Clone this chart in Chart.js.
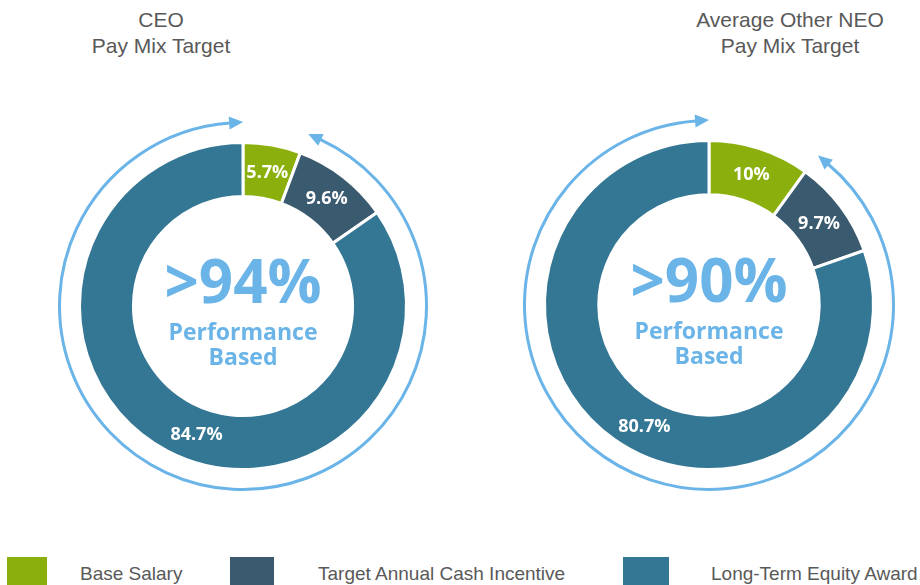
<!DOCTYPE html>
<html>
<head>
<meta charset="utf-8">
<script src="https://cdn.jsdelivr.net/npm/chart.js@4"></script>
<style>
  html, body { margin: 0; padding: 0; background: #ffffff; }
  body { width: 920px; height: 585px; position: relative; overflow: hidden; font-family: "Liberation Sans", Arial, sans-serif; }
  .title { position: absolute; text-align: center; color: #595959; font-size: 21px; line-height: 26px; width: 300px; }
  canvas { position: absolute; }
  .lg-box { position: absolute; top: 557px; height: 28px; }
  .lg-text { position: absolute; top: 563px; font-size: 19px; line-height: 22px; color: #595959; white-space: nowrap; }
</style>
</head>
<body>
<div class="title" style="left:11px; top:7px;">CEO<br>Pay Mix Target</div>
<div class="title" style="left:640px; top:7px;">Average Other NEO<br>Pay Mix Target</div>
<canvas id="ceo" width="400" height="400" style="left:43px; top:106px;"></canvas>
<canvas id="neo" width="400" height="400" style="left:509px; top:105px;"></canvas>
<div id="legend"></div>
<script>
// ---- data ----
const categories = ['Base Salary', 'Target Annual Cash Incentive', 'Long-Term Equity Award'];
const ceoValues = [5.7, 9.6, 84.7];
const neoValues = [10, 9.7, 80.7];
const ceoLabels = ['5.7%', '9.6%', '84.7%'];
const neoLabels = ['10%', '9.7%', '80.7%'];
const ceoCenter = ['>94%', 'Performance', 'Based'];
const neoCenter = ['>90%', 'Performance', 'Based'];

// ---- styles ----
const sliceColors = ['#8BB00E', '#3A5A6F', '#347794'];
const accent = '#6AB4E8';

function makePlugin(labels, center) {
  return {
    id: 'decor',
    afterDatasetsDraw(chart) {
      const ctx = chart.ctx;
      const meta = chart.getDatasetMeta(0);
      const arcs = meta.data;
      const cx = arcs[0].x, cy = arcs[0].y;
      const outer = arcs[0].outerRadius, inner = arcs[0].innerRadius;
      ctx.save();
      // slice labels
      ctx.fillStyle = '#ffffff';
      ctx.font = 'bold 18px "Open Sans", sans-serif';
      ctx.textAlign = 'center';
      ctx.textBaseline = 'middle';
      arcs.forEach((a, i) => {
        const frac = i === arcs.length - 1 ? 0.475 : 0.5;
        const ang = a.startAngle + (a.endAngle - a.startAngle) * frac;
        const r = (outer + inner) / 2;
        ctx.fillText(labels[i], cx + r * Math.cos(ang), cy + r * Math.sin(ang) + 1);
      });
      // center text
      ctx.fillStyle = accent;
      ctx.font = 'bold 60px "Open Sans", sans-serif';
      ctx.fillText(center[0], cx, cy - 20);
      ctx.font = 'bold 23px "Open Sans", sans-serif';
      ctx.fillText(center[1], cx, cy + 27);
      ctx.fillText(center[2], cx, cy + 52);
      // arrow arc
      const R = outer + 20;
      const a0 = arcs[0].endAngle + 0.075;
      const a1 = -Math.PI / 2 + Math.PI * 2 - 0.07;
      ctx.strokeStyle = accent;
      ctx.lineWidth = 3;
      ctx.beginPath();
      ctx.arc(cx, cy, R, a0, a1);
      ctx.stroke();
      function head(ang, dirSign) {
        const px = cx + R * Math.cos(ang), py = cy + R * Math.sin(ang);
        const dx = -Math.sin(ang) * dirSign, dy = Math.cos(ang) * dirSign;
        const nx = Math.cos(ang), ny = Math.sin(ang);
        const L = 13, W = 6.5;
        ctx.beginPath();
        ctx.moveTo(px + dx * L, py + dy * L);
        ctx.lineTo(px - dx * 1 + nx * W, py - dy * 1 + ny * W);
        ctx.lineTo(px - dx * 1 - nx * W, py - dy * 1 - ny * W);
        ctx.closePath();
        ctx.fillStyle = accent;
        ctx.fill();
      }
      head(a1, 1);
      head(a0, -1);
      ctx.restore();
    }
  };
}

function makeChart(id, values, labels, center, pad) {
  return new Chart(document.getElementById(id), {
    type: 'doughnut',
    data: {
      labels: categories,
      datasets: [{
        data: values,
        backgroundColor: sliceColors,
        borderColor: '#ffffff',
        borderWidth: 3
      }]
    },
    options: {
      responsive: false,
      animation: false,
      cutout: '67%',
      layout: { padding: pad },
      plugins: { legend: { display: false }, tooltip: { enabled: false }, title: { display: false } }
    },
    plugins: [makePlugin(labels, center)]
  });
}

makeChart('ceo', ceoValues, ceoLabels, ceoCenter, 35);
makeChart('neo', neoValues, neoLabels, neoCenter, 34);

// legend (HTML)
const legendPos = [[7, 40, 80], [230, 44, 318], [623, 46, 711]];
const lg = document.getElementById('legend');
categories.forEach((c, i) => {
  const b = document.createElement('div');
  b.className = 'lg-box';
  b.style.left = legendPos[i][0] + 'px';
  b.style.width = legendPos[i][1] + 'px';
  b.style.background = sliceColors[i];
  lg.appendChild(b);
  const t = document.createElement('div');
  t.className = 'lg-text';
  t.style.left = legendPos[i][2] + 'px';
  t.textContent = c;
  lg.appendChild(t);
});
</script>
</body>
</html>
